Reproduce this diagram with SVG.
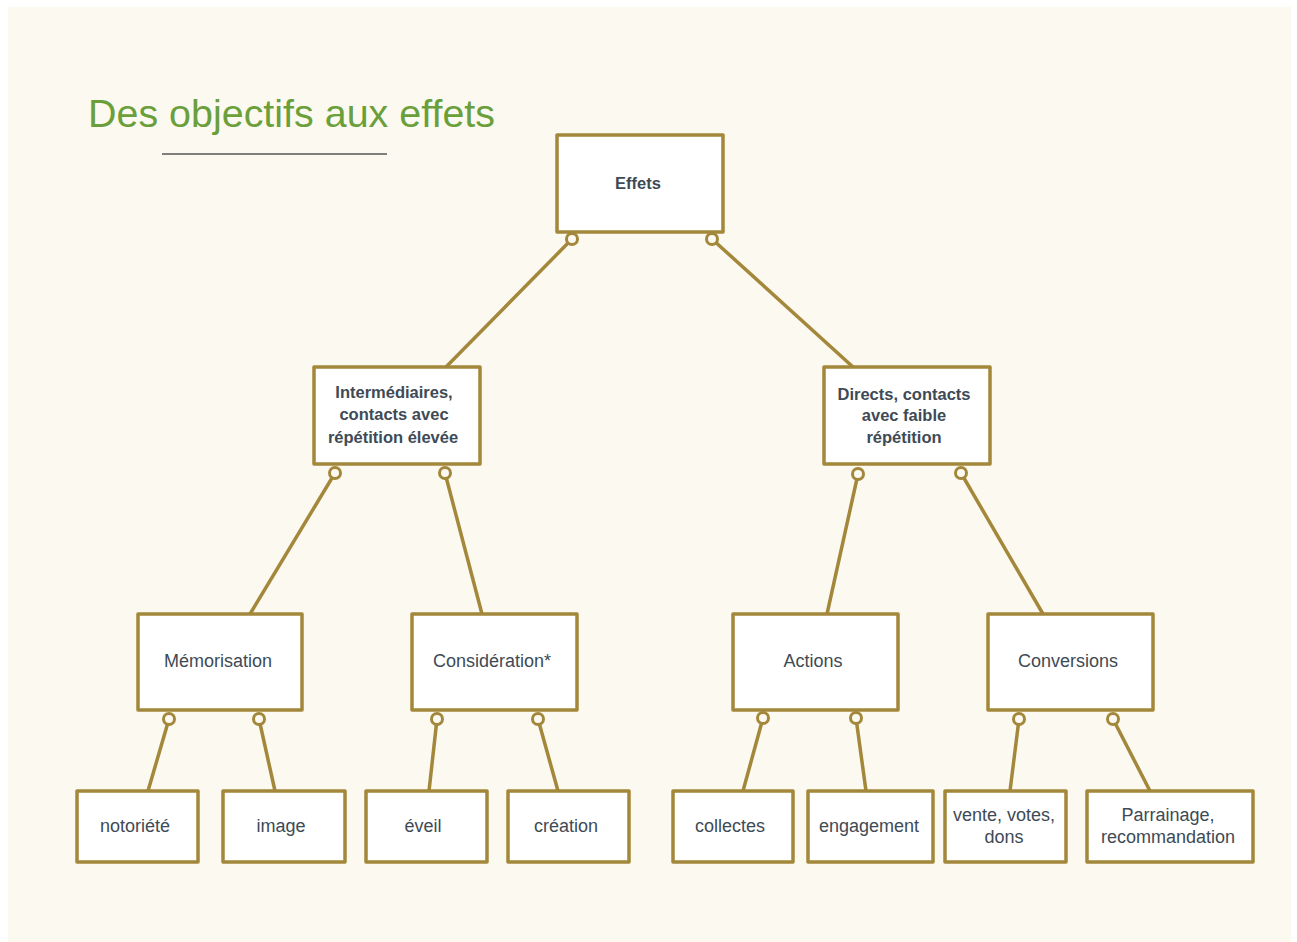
<svg xmlns="http://www.w3.org/2000/svg" width="1297" height="942" viewBox="0 0 1297 942">
<style>
.box{fill:#fff;stroke:#A3873A;stroke-width:3.5;stroke-linejoin:round}
.ln{stroke:#A3873A;stroke-width:3.5;fill:none}
.dot{fill:#FCF9F1;stroke:#A3873A;stroke-width:3}
.h{font-family:"Liberation Sans",Arial,sans-serif;font-weight:bold;font-size:16.5px;fill:#3E4A55;text-anchor:middle}
.t{font-family:"Liberation Sans",Arial,sans-serif;font-size:18px;fill:#3E4A55;text-anchor:middle}
</style>
<rect width="1297" height="942" fill="#fff"/>
<rect x="8" y="7" width="1283" height="935" fill="#FCF9F1"/>
<text x="88" y="127" font-family="Liberation Sans,Arial,sans-serif" font-size="39" fill="#6A9F3A" textLength="407" lengthAdjust="spacingAndGlyphs">Des objectifs aux effets</text>
<line x1="162" y1="154" x2="387" y2="154" stroke="#555" stroke-width="1.6"/>
<g id="connectors">
<line class="ln" x1="572" y1="239" x2="446" y2="367"/>
<line class="ln" x1="712" y1="239" x2="853" y2="367"/>
<line class="ln" x1="335" y1="473" x2="250" y2="614"/>
<line class="ln" x1="445" y1="473" x2="482" y2="614"/>
<line class="ln" x1="858" y1="474" x2="827" y2="614"/>
<line class="ln" x1="961" y1="473" x2="1043" y2="614"/>
<line class="ln" x1="169" y1="719" x2="148" y2="791"/>
<line class="ln" x1="259" y1="719" x2="275" y2="791"/>
<line class="ln" x1="437" y1="719" x2="429" y2="791"/>
<line class="ln" x1="538" y1="719" x2="558" y2="791"/>
<line class="ln" x1="763" y1="718" x2="743" y2="791"/>
<line class="ln" x1="856" y1="718" x2="866" y2="791"/>
<line class="ln" x1="1019" y1="719" x2="1010" y2="791"/>
<line class="ln" x1="1113" y1="719" x2="1150" y2="791"/>
<circle class="dot" cx="572" cy="239" r="5.5"/>
<circle class="dot" cx="712" cy="239" r="5.5"/>
<circle class="dot" cx="335" cy="473" r="5.5"/>
<circle class="dot" cx="445" cy="473" r="5.5"/>
<circle class="dot" cx="858" cy="474" r="5.5"/>
<circle class="dot" cx="961" cy="473" r="5.5"/>
<circle class="dot" cx="169" cy="719" r="5.5"/>
<circle class="dot" cx="259" cy="719" r="5.5"/>
<circle class="dot" cx="437" cy="719" r="5.5"/>
<circle class="dot" cx="538" cy="719" r="5.5"/>
<circle class="dot" cx="763" cy="718" r="5.5"/>
<circle class="dot" cx="856" cy="718" r="5.5"/>
<circle class="dot" cx="1019" cy="719" r="5.5"/>
<circle class="dot" cx="1113" cy="719" r="5.5"/>
</g>
<g id="effets"><rect class="box" x="557" y="135" width="166" height="97"/><text class="h" x="638" y="189">Effets</text></g>
<g id="intermediaires"><rect class="box" x="314" y="367" width="166" height="97"/><text class="h" x="394" y="398">Intermédiaires,</text><text class="h" x="394" y="420">contacts avec</text><text class="h" x="393" y="443">répétition élevée</text></g>
<g id="directs"><rect class="box" x="824" y="367" width="166" height="97"/><text class="h" x="904" y="400">Directs, contacts</text><text class="h" x="904" y="421">avec faible</text><text class="h" x="904" y="443">répétition</text></g>
<g id="memorisation"><rect class="box" x="138" y="614" width="164" height="96"/><text class="t" x="218" y="667">Mémorisation</text></g>
<g id="consideration"><rect class="box" x="412" y="614" width="165" height="96"/><text class="t" x="492" y="667">Considération*</text></g>
<g id="actions"><rect class="box" x="733" y="614" width="165" height="96"/><text class="t" x="813" y="667">Actions</text></g>
<g id="conversions"><rect class="box" x="988" y="614" width="165" height="96"/><text class="t" x="1068" y="667">Conversions</text></g>
<g id="notoriete"><rect class="box" x="77" y="791" width="121" height="71"/><text class="t" x="135" y="832">notoriété</text></g>
<g id="image"><rect class="box" x="223" y="791" width="122" height="71"/><text class="t" x="281" y="832">image</text></g>
<g id="eveil"><rect class="box" x="366" y="791" width="121" height="71"/><text class="t" x="423" y="832">éveil</text></g>
<g id="creation"><rect class="box" x="508" y="791" width="121" height="71"/><text class="t" x="566" y="832">création</text></g>
<g id="collectes"><rect class="box" x="673" y="791" width="120" height="71"/><text class="t" x="730" y="832">collectes</text></g>
<g id="engagement"><rect class="box" x="808" y="791" width="125" height="71"/><text class="t" x="869" y="832">engagement</text></g>
<g id="vente"><rect class="box" x="945" y="791" width="121" height="71"/><text class="t" x="1004" y="821">vente, votes,</text><text class="t" x="1004" y="843">dons</text></g>
<g id="parrainage"><rect class="box" x="1087" y="791" width="166" height="71"/><text class="t" x="1168" y="821">Parrainage,</text><text class="t" x="1168" y="843">recommandation</text></g>
</svg>
